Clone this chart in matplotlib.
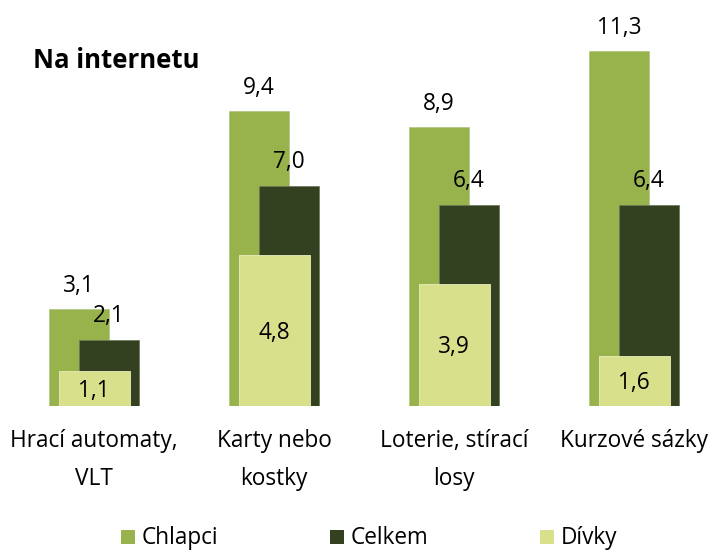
import matplotlib
matplotlib.use("Agg")
import matplotlib.pyplot as plt
from matplotlib.patches import Rectangle
import numpy as np

plt.rcParams['font.family'] = ['Open Sans', 'DejaVu Sans']

categories = ["Hrací automaty,\nVLT", "Karty nebo\nkostky", "Loterie, stírací\nlosy", "Kurzové sázky"]
chlapci = [3.1, 9.4, 8.9, 11.3]
celkem = [2.1, 7.0, 6.4, 6.4]
divky = [1.1, 4.8, 3.9, 1.6]
series_names = ["Chlapci", "Celkem", "Dívky"]
title = "Na internetu"

c_ch = "#98B34C"
c_ce = "#344120"
c_dv = "#D9E08B"

W, H = 713, 552
fig = plt.figure(figsize=(W/100, H/100), dpi=100)

base_px = 406          # baseline from top
scale = 31.4           # px per unit
cat_px = 180           # px per category
x0_px = 94             # center of first category
left_px = 4
ax = fig.add_axes([left_px/W, (H-base_px)/H, (W-left_px)/W, base_px/H])
ax.set_xlim((left_px - x0_px)/cat_px, (W - x0_px)/cat_px)
ax.set_ylim(0, base_px/scale)
ax.axis('off')

x = np.arange(len(categories))
wb = 60/cat_px
off = 15/cat_px
wd = 71/cat_px
fs = 16.3

ax.bar(x - off, chlapci, wb, color=c_ch, edgecolor="#B5C98A", linewidth=0.6, zorder=1)
ax.bar(x + off, celkem, wb, color=c_ce, edgecolor="#6E7A5C", linewidth=0.6, zorder=2)
ax.bar(x + 0.5/cat_px, divky, wd, color=c_dv, edgecolor="#E8EDBE", linewidth=0.6, zorder=3)

def fmt(v):
    return f"{v:.1f}".replace(".", ",")

for xi, v in zip(x - off, chlapci):
    ax.annotate(fmt(v), (xi, v), xytext=(0, 23), textcoords="offset pixels",
                ha="center", va="center", fontsize=fs, zorder=5)
for xi, v in zip(x + off, celkem):
    ax.annotate(fmt(v), (xi, v), xytext=(0, 24), textcoords="offset pixels",
                ha="center", va="center", fontsize=fs, zorder=5)
for xi, v in zip(x, divky):
    ax.annotate(fmt(v), (xi, v/2), xytext=(0, -2), textcoords="offset pixels",
                ha="center", va="center", fontsize=fs, zorder=5)

for xi, c in zip(x, categories):
    ax.annotate(c, (xi, 0), xytext=(0, -23), textcoords="offset pixels",
                ha="center", va="top", fontsize=fs, linespacing=1.8)

fig.text(33/W, 1 - 60/H, title, fontsize=18.5, fontweight="bold", ha="left", va="center")

# legend
leg_y = 1 - 538/H
for mx, name, col in zip([121, 330, 540], series_names, [c_ch, c_ce, c_dv]):
    fig.patches.append(Rectangle((mx/W, leg_y - 6/H), 14/W, 14/H, transform=fig.transFigure,
                                 facecolor=col, edgecolor="none"))
    fig.text((mx + 21)/W, leg_y, name, fontsize=fs, ha="left", va="center")

fig.savefig("out.png", dpi=100)
